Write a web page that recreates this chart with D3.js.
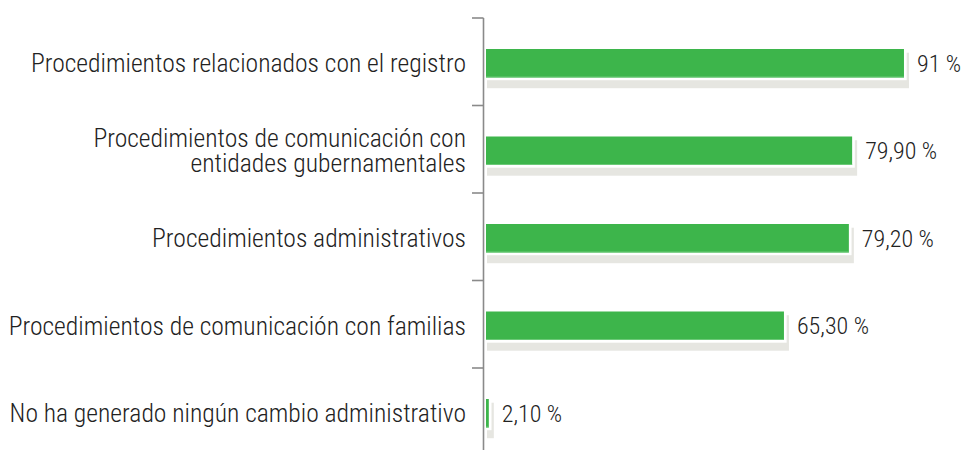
<!DOCTYPE html>
<html><head><meta charset="utf-8">
<script src="https://cdn.jsdelivr.net/npm/d3@7"></script>
<style>
html,body{margin:0;padding:0;background:#fff;}
svg text{font-family:"Roboto Condensed","Liberation Sans Narrow","DejaVu Sans Condensed",sans-serif;font-weight:300;fill:#222;}
</style></head>
<body>
<svg id="chart" width="966" height="450"></svg>
<script>
const categories = [
  ["Procedimientos relacionados con el registro"],
  ["Procedimientos de comunicación con", "entidades gubernamentales"],
  ["Procedimientos administrativos"],
  ["Procedimientos de comunicación con familias"],
  ["No ha generado ningún cambio administrativo"]
];
const values = [91, 79.9, 79.2, 65.3, 2.1];
const valueLabels = ["91 %", "79,90 %", "79,20 %", "65,30 %", "2,10 %"];

const svg = d3.select("#chart");
const axisX = 483.5;
const barStart = 486;
const idx = d3.range(values.length);
const y = d3.scaleBand().domain(idx).range([18, 455.5]);
const x = d3.scaleLinear().domain([0, 100]).range([479, 946]);
const barH = 28.5, barOff = 31;

// axis
svg.append("line").attr("x1", axisX).attr("x2", axisX).attr("y1", 18).attr("y2", 450)
  .attr("stroke", "#8a8a8a").attr("stroke-width", 1.6);
idx.forEach(i => {
  svg.append("line").attr("x1", 472).attr("x2", axisX).attr("y1", y(i)).attr("y2", y(i))
    .attr("stroke", "#8a8a8a").attr("stroke-width", 1.6);
});

const g = svg.append("g").selectAll("g").data(idx).join("g");
// shadow
g.append("rect").attr("x", barStart + 1).attr("y", i => y(i) + barOff + 3.7)
  .attr("width", i => x(values[i]) - barStart + 4).attr("height", barH + 7)
  .attr("fill", "#e6e6e1");
// white gap
g.append("rect").attr("x", barStart).attr("y", i => y(i) + barOff)
  .attr("width", i => x(values[i]) - barStart + 2.7).attr("height", barH + 2.7)
  .attr("fill", "#ffffff");
// bar
g.append("rect").attr("x", barStart).attr("y", i => y(i) + barOff)
  .attr("width", i => x(values[i]) - barStart).attr("height", barH)
  .attr("fill", "#3db54b");
g.append("rect").attr("x", barStart).attr("y", i => y(i) + barOff + barH - 1)
  .attr("width", i => x(values[i]) - barStart).attr("height", 1)
  .attr("fill", "#6cc978");

// value labels
g.append("text").attr("x", i => x(values[i]) + 13).attr("y", i => y(i) + barOff + barH / 2)
  .attr("dy", "0.35em").attr("font-size", 24).text(i => valueLabels[i]);

// category labels
g.each(function(i) {
  const lines = categories[i];
  const cy = y(i) + barOff + barH / 2;
  const lh = 25;
  const t = d3.select(this).append("text").attr("text-anchor", "end").attr("font-size", 25.6);
  lines.forEach((l, k) => {
    t.append("tspan").attr("x", 466).attr("y", cy + (k - (lines.length - 1) / 2) * lh).attr("dy", "0.35em").text(l);
  });
});
</script>
</body></html>
